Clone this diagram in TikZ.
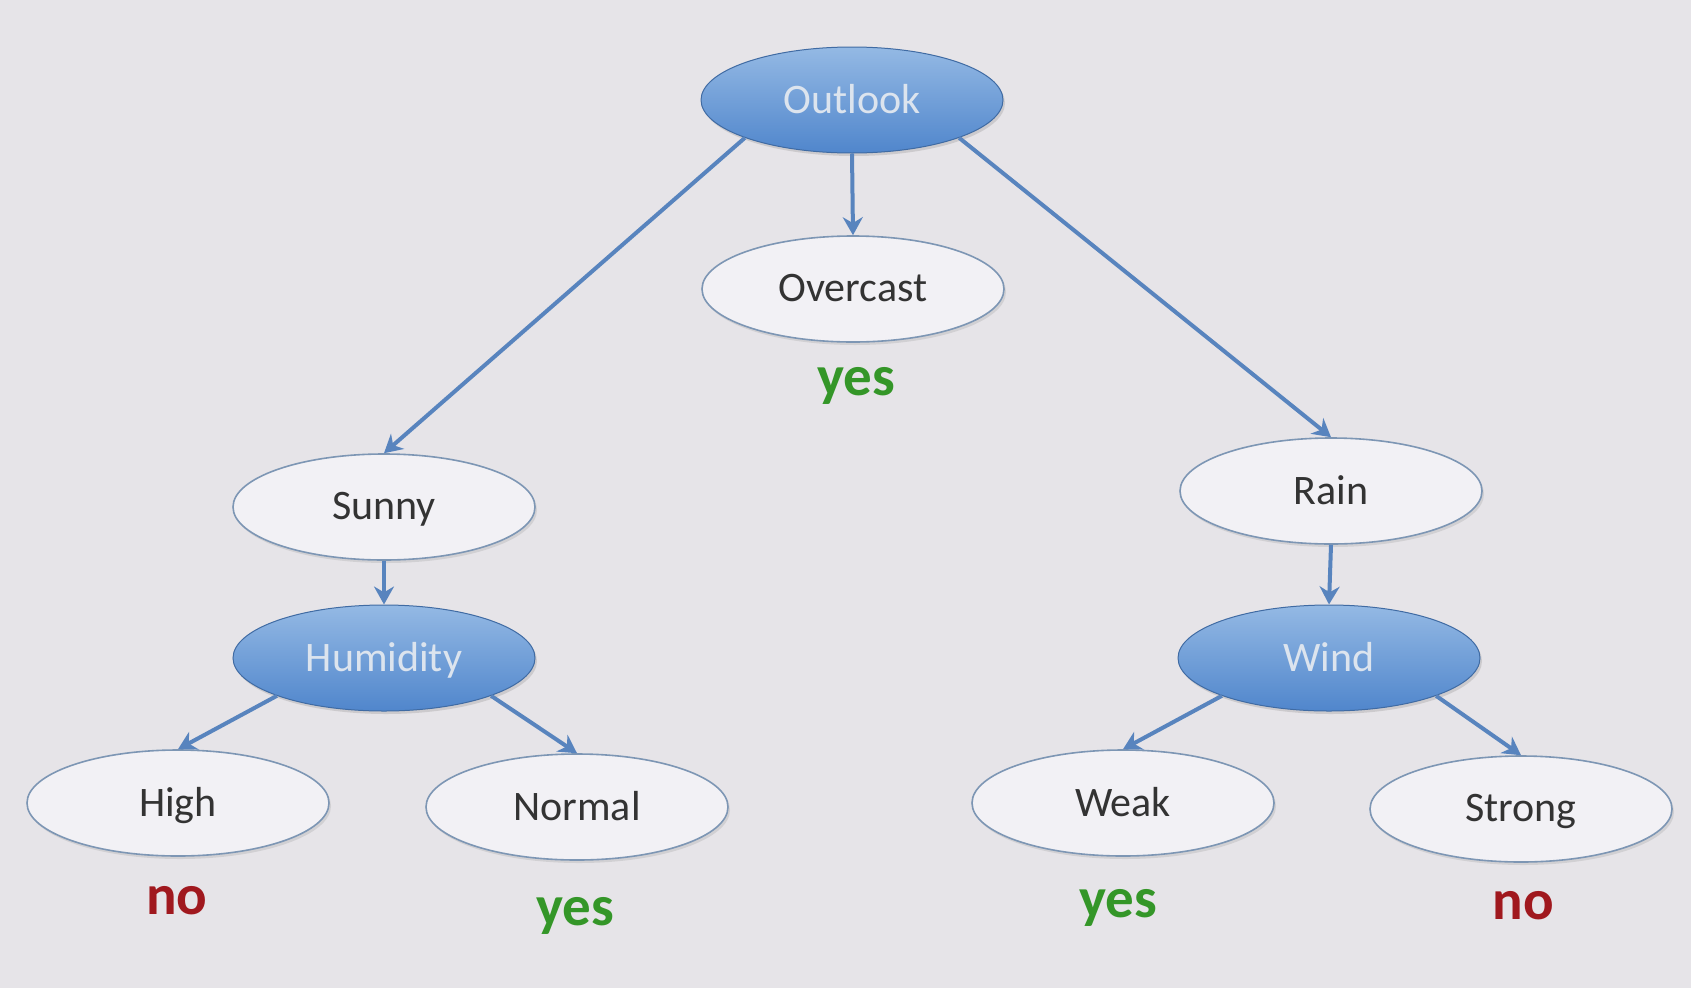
\documentclass[tikz,border=0pt]{standalone}
\usepackage{fontspec}
\setmainfont{Carlito}
\usetikzlibrary{shapes.geometric,arrows.meta,shadows}
\definecolor{bg}{RGB}{230,228,232}
\definecolor{edgeblue}{RGB}{88,132,190}
\definecolor{topblue}{RGB}{148,185,228}
\definecolor{botblue}{RGB}{80,134,204}
\definecolor{oval}{RGB}{125,150,180}
\definecolor{ovalfill}{RGB}{242,241,245}
\definecolor{yesgreen}{RGB}{52,150,40}
\definecolor{nored}{RGB}{160,24,30}
\definecolor{lighttext}{RGB}{220,228,238}
\tikzset{
  base/.style={ellipse, minimum width=302pt, minimum height=106pt, inner sep=0pt,
    font=\fontsize{42}{46}\selectfont, text depth=2pt},
  attr/.style={base, draw=botblue!80!black, line width=1pt, top color=topblue, bottom color=botblue,
    text=lighttext, drop shadow={opacity=0.25, shadow xshift=2pt, shadow yshift=-3pt}},
  val/.style={base, draw=oval, line width=1.6pt, fill=ovalfill, text=black!80,
    drop shadow={opacity=0.2, shadow xshift=2pt, shadow yshift=-3pt}},
  yeslab/.style={font=\bfseries\fontsize{57}{60}\selectfont, text=yesgreen},
  nolab/.style={font=\bfseries\fontsize{57}{60}\selectfont, text=nored},
  conn/.style={draw=edgeblue, line width=4pt, -{Stealth[length=18pt,width=20pt]}},
}
\begin{document}
\begin{tikzpicture}[x=1pt,y=-1pt]
\fill[bg] (0,0) rectangle (1691,988);
\useasboundingbox (0,0) rectangle (1691,988);
\node[attr] (outlook) at (852,100) {Outlook};
\node[val] (overcast) at (853,289) {Overcast};
\node[yeslab] (yes1) at (856,386) {yes};
\node[val] (sunny) at (384,507) {Sunny};
\node[attr] (humidity) at (384,658) {Humidity};
\node[val] (high) at (178,803) {High};
\node[val] (normal) at (577,807) {Normal};
\node[nolab] (no1) at (177,901) {no};
\node[yeslab] (yes2) at (575,916) {yes};
\node[val] (rain) at (1331,491) {Rain};
\node[attr] (wind) at (1329,658) {Wind};
\node[val] (weak) at (1123,803) {Weak};
\node[val] (strong) at (1521,809) {Strong};
\node[yeslab] (yes3) at (1118,908) {yes};
\node[nolab] (no2) at (1523,906) {no};
\draw[conn] (outlook.south west) -- (sunny.north);
\draw[conn] (outlook.south) -- (overcast.north);
\draw[conn] (outlook.south east) -- (rain.north);
\draw[conn] (sunny.south) -- (humidity.north);
\draw[conn] (rain.south) -- (wind.north);
\draw[conn] (humidity.south west) -- (high.north);
\draw[conn] (humidity.south east) -- (normal.north);
\draw[conn] (wind.south west) -- (weak.north);
\draw[conn] (wind.south east) -- (strong.north);
\end{tikzpicture}
\end{document}
